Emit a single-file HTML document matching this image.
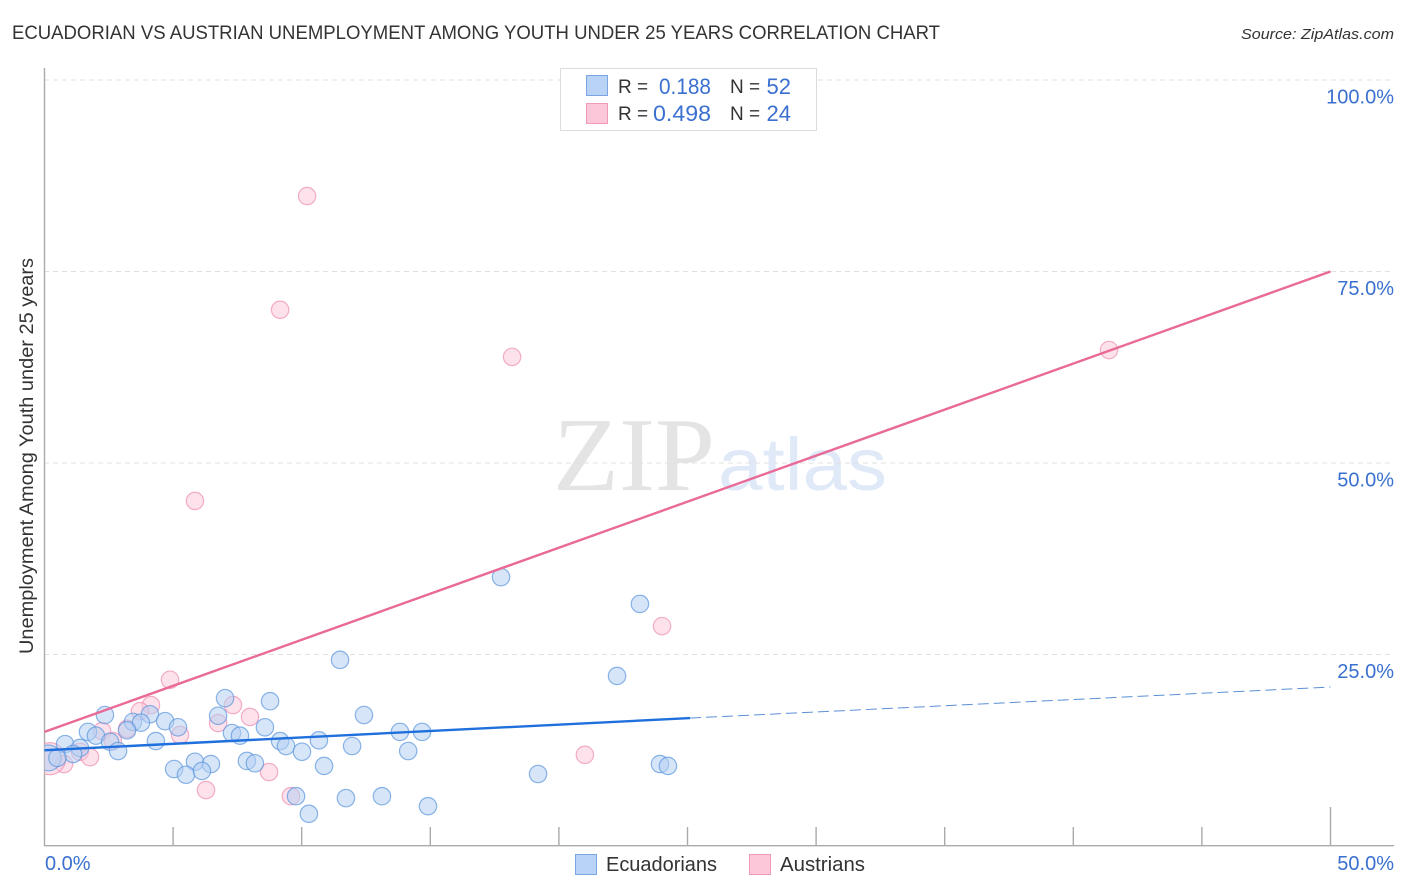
<!DOCTYPE html>
<html>
<head>
<meta charset="utf-8">
<title>Ecuadorian vs Austrian Unemployment Correlation Chart</title>
<style>
html,body{margin:0;padding:0;background:#fff;width:1406px;height:892px;overflow:hidden}
svg{display:block}
text{font-family:"Liberation Sans",sans-serif}
</style>
</head>
<body>
<svg id="chart" width="1406" height="892" viewBox="0 0 1406 892">
  <defs>
    <clipPath id="plot-clip"><rect x="44.5" y="60" width="1350" height="786"/></clipPath>
  </defs>
  <g id="watermark">
    <text x="553" y="490" font-size="105" textLength="162" lengthAdjust="spacingAndGlyphs" fill="#e4e4e4" style="font-family:'Liberation Serif',serif">ZIP</text>
    <text x="718" y="490" font-size="74" textLength="169" lengthAdjust="spacingAndGlyphs" fill="#dfe9f8" style="font-family:'Liberation Sans',sans-serif">atlas</text>
  </g>
  <g id="grid"></g>
  <g id="axes"></g>
  <g id="pink-points" clip-path="url(#plot-clip)"></g>
  <g id="blue-points" clip-path="url(#plot-clip)"></g>
  <g id="trends"></g>
  <g id="labels"></g>

  <text x="12" y="39" font-size="19" textLength="928" lengthAdjust="spacingAndGlyphs" fill="#333">ECUADORIAN VS AUSTRIAN UNEMPLOYMENT AMONG YOUTH UNDER 25 YEARS CORRELATION CHART</text>
  <text x="1241" y="39" font-size="15" textLength="153" lengthAdjust="spacingAndGlyphs" font-style="italic" fill="#333">Source: ZipAtlas.com</text>
  <text transform="translate(33,456) rotate(-90)" font-size="19" text-anchor="middle" textLength="396" lengthAdjust="spacingAndGlyphs" fill="#333">Unemployment Among Youth under 25 years</text>

  <g>
    <rect x="560.5" y="68.5" width="256" height="62" fill="#fff" stroke="#dcdcdc"/>
    <rect x="586.5" y="75.5" width="21" height="20" fill="#b9d3f6" stroke="#7ba6e3"/>
    <rect x="586.5" y="103.5" width="21" height="20" fill="#fcc8d9" stroke="#f09ab8"/>
    <text x="618" y="93" font-size="19" fill="#333">R =</text>
    <text x="711" y="94" font-size="22" text-anchor="end" textLength="52" lengthAdjust="spacingAndGlyphs" fill="#3a70cf">0.188</text>
    <text x="730" y="93" font-size="19" fill="#333">N =</text>
    <text x="791" y="94" font-size="22" text-anchor="end" fill="#3a70cf">52</text>
    <text x="618" y="120" font-size="19" fill="#333">R =</text>
    <text x="711" y="121" font-size="22" text-anchor="end" textLength="58" lengthAdjust="spacingAndGlyphs" fill="#3a70cf">0.498</text>
    <text x="730" y="120" font-size="19" fill="#333">N =</text>
    <text x="791" y="121" font-size="22" text-anchor="end" fill="#3a70cf">24</text>
  </g>

  <g>
    <rect x="575.5" y="854.5" width="21" height="20" fill="#b9d3f6" stroke="#7ba6e3"/>
    <text x="606" y="871" font-size="20" textLength="111" lengthAdjust="spacingAndGlyphs" fill="#333">Ecuadorians</text>
    <rect x="749.5" y="854.5" width="21" height="20" fill="#fcc8d9" stroke="#f09ab8"/>
    <text x="780" y="871" font-size="20" textLength="85" lengthAdjust="spacingAndGlyphs" fill="#333">Austrians</text>
  </g>
</svg>
<script>
const blueX = [17.75,23.15,11.49,22.26,7.02,8.77,2.35,6.75,12.42,4.10,3.44,3.75,4.69,5.19,3.21,8.57,1.69,2.0,7.29,7.6,13.82,14.68,10.67,9.16,9.39,4.33,2.55,0.8,1.38,2.86,11.96,10.01,14.14,1.11,0.15,0.5,5.85,6.47,7.87,8.18,5.04,5.5,6.12,10.87,23.93,24.24,19.19,9.78,11.72,13.12,14.91,10.28];
const blueY = [35.1,31.6,24.3,22.2,19.3,18.9,17.1,17.0,17.1,17.2,16.2,16.1,16.3,15.5,15.1,15.5,14.9,14.4,14.75,14.4,14.9,14.9,13.8,13.7,13.05,13.7,13.6,13.3,12.8,12.4,13.05,12.3,12.4,12.0,11.5,11.5,11.0,10.7,11.1,10.8,10.05,9.3,9.8,10.45,10.7,10.45,9.4,6.5,6.25,6.5,5.2,4.2];
const blueWeight = [1,1,1,1,1,1,1,1,1,1,1,1,1,1,1,1,1,1,1,1,1,1,1,1,1,1,1,1,1,1,1,1,1,1,2.2,1,1,1,1,1,1,1,1,1,1,1,1,1,1,1,1,1];
const pinkX = [10.21,9.16,18.18,41.39,5.85,24.01,4.88,4.14,7.33,3.71,7.99,6.75,2.24,3.21,5.27,2.66,1.38,1.77,21.01,0.76,0.2,8.73,6.28,9.58];
const pinkY = [84.85,70,63.85,64.75,45.05,28.7,21.7,18.4,18.4,17.6,16.85,16.05,15.0,15.3,14.5,13.7,12.3,11.6,11.9,10.7,11.4,9.65,7.3,6.5];
const pinkWeight = [1,1,1,1,1,1,1,1,1,1,1,1,1,1,1,1,1,1,1,1,3.4,1,1,1];
const xTickValues = [0,5,10,15,20,25,30,35,40,45,50];
const yTickValues = [25,50,75,100];
const xEndLabels = ['0.0%','50.0%'];
const yTickLabels = ['25.0%','50.0%','75.0%','100.0%'];
const blueTrendStart = 12.5;
const blueTrendSolidEndX = 25.1;
const blueTrendSolidEnd = 16.7;
const blueTrendEnd = 20.75;
const pinkTrendStart = 14.9;
const pinkTrendEnd = 75;

const NS = 'http://www.w3.org/2000/svg';
const sx = v => 44.5 + v * 25.72;
const sy = v => 846 - v * 7.66;
function mk(tag, parent, attrs) {
  const el = document.createElementNS(NS, tag);
  for (const k in attrs) el.setAttribute(k, attrs[k]);
  document.getElementById(parent).appendChild(el);
  return el;
}

yTickValues.forEach(function (v) {
  const l = mk('line', 'grid', {x1: 44, x2: 1394, y1: sy(v), y2: sy(v), stroke: '#e0e0e0', 'stroke-width': 1, 'stroke-dasharray': '5 4'});
  
  
});

const yAxis = mk('line', 'axes', {x1: 44.5, x2: 44.5, y1: 68, y2: 846, stroke: '#aaaaaa', 'stroke-width': 1.4});


const xAxis = mk('line', 'axes', {x1: 44, x2: 1394, y1: 845.7, y2: 845.7, stroke: '#aaaaaa', 'stroke-width': 1.4});


xTickValues.slice(1).forEach(function (v) {
  const top = v === 50 ? 807 : 827;
  const t = mk('line', 'axes', {x1: sx(v), x2: sx(v), y1: top, y2: 846, stroke: '#aaaaaa', 'stroke-width': 1.4});
  
  
});

function drawPoints(xs, ys, ws, parent, fill, stroke, name) {
  xs.forEach(function (x, i) {
    const c = mk('circle', parent, {cx: sx(x), cy: sy(ys[i]), r: 8.7 * Math.sqrt(ws[i]), fill: fill, 'fill-opacity': 0.55, stroke: stroke, 'stroke-opacity': 0.7, 'stroke-width': 1.2});
    
    
  });
}
drawPoints(pinkX, pinkY, pinkWeight, 'pink-points', '#fbc9da', '#ee8fb0', 'austrians-point');
drawPoints(blueX, blueY, blueWeight, 'blue-points', '#b5cff3', '#5b95dd', 'ecuadorians-point');

const pinkLine = mk('line', 'trends', {x1: sx(0), y1: sy(pinkTrendStart), x2: sx(50), y2: sy(pinkTrendEnd), stroke: '#e96a97', 'stroke-width': 2.4});


const blueLine = mk('line', 'trends', {x1: sx(0), y1: sy(blueTrendStart), x2: sx(blueTrendSolidEndX), y2: sy(blueTrendSolidEnd), stroke: '#1f6fdc', 'stroke-width': 2.4});


const blueDash = mk('line', 'trends', {x1: sx(blueTrendSolidEndX), y1: sy(blueTrendSolidEnd), x2: sx(50), y2: sy(blueTrendEnd), stroke: '#5c8fd6', 'stroke-width': 1, 'stroke-dasharray': '11 5'});



yTickValues.forEach(function (v, i) {
  const t = mk('text', 'labels', {x: 1394, y: sy(v) + 23.5, 'font-size': 20, 'text-anchor': 'end', fill: '#3a70cf'});
  t.textContent = yTickLabels[i];
  
  
});
const x0 = mk('text', 'labels', {x: 45, y: 870, 'font-size': 20, fill: '#3a70cf'});
x0.textContent = xEndLabels[0];


const x1 = mk('text', 'labels', {x: 1394, y: 870, 'font-size': 20, 'text-anchor': 'end', fill: '#3a70cf'});
x1.textContent = xEndLabels[1];


</script>
</body>
</html>
